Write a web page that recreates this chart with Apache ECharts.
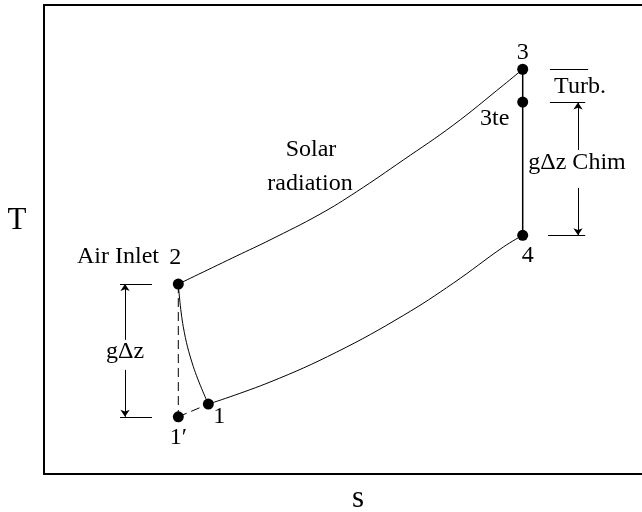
<!DOCTYPE html>
<html>
<head>
<meta charset="utf-8">
<script src="https://cdn.jsdelivr.net/npm/echarts@6/dist/echarts.min.js"></script>
<style>html,body{margin:0;padding:0;background:#fff}#c{width:642px;height:512px}</style>
</head>
<body>
<div id="c"></div>
<script>
// ---- data (arbitrary s / T units, 0..100) ----
const stateNames = ['1', '1\u2032', '2', '3', '3te', '4'];
const stateS = [27.48, 22.46, 22.46, 80.05, 80.05, 80.05];
const stateT = [14.9, 12.2, 40.5, 86.3, 79.3, 50.9];

// 2 -> 3 heating (solar radiation)
const curve23S = [22.46, 32.22, 37.79, 46.15, 52.29, 60.08, 68.45, 76.81, 80.05];
const curve23T = [40.5, 46.5, 49.9, 55.4, 60.2, 66.95, 74.4, 82.9, 86.3];
// 1 -> 4 exhaust
const curve14S = [27.48, 37.79, 48.95, 60.08, 68.45, 76.81, 80.05];
const curve14T = [14.9, 19.6, 26.0, 33.8, 40.7, 48.4, 50.9];
// 2 -> 1 inlet
const curve21S = [22.46, 23.29, 24.97, 27.48];
const curve21T = [40.5, 31.4, 22.9, 14.9];

// dimension marks
const dimLeftS = [12.71, 18.06, 13.55];      // ext line from, to, arrow s
const dimLeftT = [40.5, 12.2, 28.6, 22.2];   // top, bottom, arrow gap top, gap bottom
const dimRightS = [84.6, 91.0, 90.5, 84.3, 89.3];
const dimRightT = [86.3, 79.2, 50.9, 69.1, 61.0];

const FONT = 'Liberation Serif';
const zip = (a, b) => a.map((v, i) => [v, b[i]]);
const idx = n => stateNames.indexOf(n);
const P = n => [stateS[idx(n)], stateT[idx(n)]];

const labelOffsets = {
  '1': [11, 13], '1\u2032': [0, 21], '2': [-3, -26],
  '3': [0, -17], '3te': [-28, 17], '4': [5, 20]
};

const solid = { color: '#000', width: 1, opacity: 1 };
const chart = echarts.init(document.getElementById('c'), null, { renderer: 'canvas' });

const hLine = (s1, s2, t) => ({ coords: [[s1, t], [s2, t]] });
const txt = (x, y, text, size) => ({ type: 'text', x: x, y: y,
  style: { text: text, font: size + 'px "Liberation Serif"', fill: '#000', align: 'center', verticalAlign: 'middle' } });

chart.setOption({
  animation: false,
  backgroundColor: '#fff',
  grid: { left: 44, right: 0, top: 5, bottom: 38 },
  xAxis: [
    { type: 'value', min: 0, max: 100, position: 'bottom',
      axisLine: { show: true, onZero: false, lineStyle: { color: '#000', width: 2 } },
      axisTick: { show: false }, axisLabel: { show: false }, splitLine: { show: false } },
    { type: 'value', min: 0, max: 100, position: 'top',
      axisLine: { show: true, onZero: false, lineStyle: { color: '#000', width: 2 } },
      axisTick: { show: false }, axisLabel: { show: false }, splitLine: { show: false } }
  ],
  yAxis: { type: 'value', min: 0, max: 100,
    axisLine: { show: true, onZero: false, lineStyle: { color: '#000', width: 2 } },
    axisTick: { show: false }, axisLabel: { show: false }, splitLine: { show: false } },
  series: [
    { type: 'line', data: zip(curve23S, curve23T), smooth: 0.4, symbol: 'none', lineStyle: solid },
    { type: 'line', data: zip(curve14S, curve14T), smooth: 0.4, symbol: 'none', lineStyle: solid },
    { type: 'line', data: zip(curve21S, curve21T), smooth: 0.4, symbol: 'none', lineStyle: solid },
    { type: 'line', data: [P('3'), P('4')], symbol: 'none', lineStyle: { color: '#000', width: 1.5 } },
    { type: 'line', data: [P('2'), P('1\u2032')], symbol: 'none',
      lineStyle: { color: '#000', width: 1, type: [9, 5] } },
    { type: 'line', data: [P('1\u2032'), P('1')], symbol: 'none',
      lineStyle: { color: '#000', width: 1, type: [9, 5] } },
    // extension lines
    { type: 'lines', coordinateSystem: 'cartesian2d', symbol: 'none', lineStyle: solid,
      data: [
        hLine(dimLeftS[0], dimLeftS[1], dimLeftT[0]),
        hLine(dimLeftS[0], dimLeftS[1], dimLeftT[1]),
        hLine(dimRightS[0], dimRightS[1], dimRightT[0]),
        hLine(dimRightS[0], dimRightS[2], dimRightT[1]),
        hLine(dimRightS[3], dimRightS[2], dimRightT[2])
      ] },
    // arrows
    { type: 'lines', coordinateSystem: 'cartesian2d', symbol: ['none', 'arrow'], symbolSize: [4, 7],
      lineStyle: solid,
      data: [
        { coords: [[dimLeftS[2], dimLeftT[2]], [dimLeftS[2], dimLeftT[0]]] },
        { coords: [[dimLeftS[2], dimLeftT[3]], [dimLeftS[2], dimLeftT[1]]] },
        { coords: [[dimRightS[4], dimRightT[3]], [dimRightS[4], dimRightT[1]]] },
        { coords: [[dimRightS[4], dimRightT[4]], [dimRightS[4], dimRightT[2]]] }
      ] },
    // state points
    { type: 'scatter', symbol: 'circle', symbolSize: 11, itemStyle: { color: '#000', opacity: 1 },
      emphasis: { disabled: true },
      data: stateNames.map((n, i) => ({
        value: [stateS[i], stateT[i]], name: n,
        label: { show: true, formatter: n, position: 'inside', offset: labelOffsets[n],
          color: '#000', opacity: 1, fontFamily: FONT, fontSize: 24 }
      })) }
  ],
  graphic: [
    txt(17, 221, 'T', 31),
    txt(358, 499, 's', 31),
    txt(118, 257, 'Air Inlet', 24),
    txt(125, 352, 'g\u0394z', 24),
    txt(311, 150, 'Solar', 24),
    txt(310, 184, 'radiation', 24),
    txt(580, 87, 'Turb.', 24),
    txt(577, 163, 'g\u0394z Chim', 24)
  ]
});
</script>
</body>
</html>
